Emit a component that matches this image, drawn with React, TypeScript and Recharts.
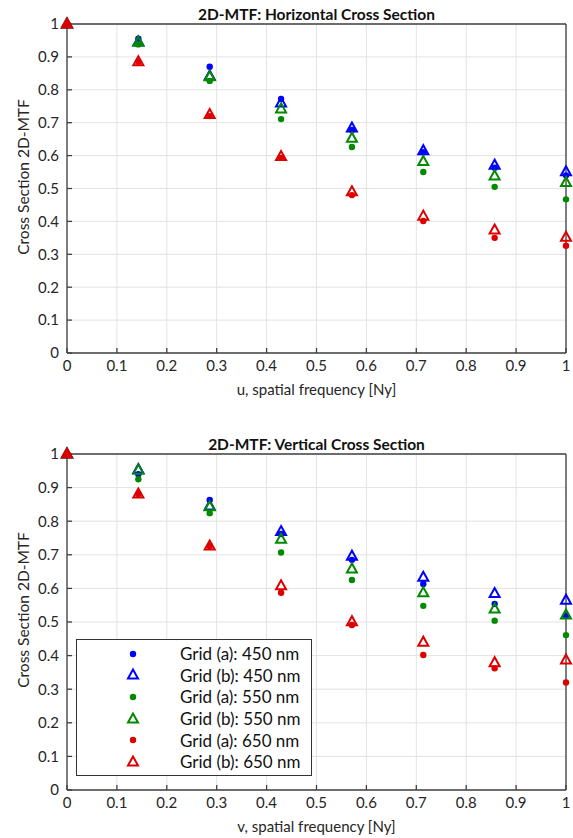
import { ScatterChart, Scatter, XAxis, YAxis, CartesianGrid } from 'recharts';

const FREQ = [0, 0.143, 0.286, 0.429, 0.571, 0.714, 0.857, 1];
const TICKS = [0, 0.1, 0.2, 0.3, 0.4, 0.5, 0.6, 0.7, 0.8, 0.9, 1];

// horizontal cross section
const H_A450 = [1, 0.955, 0.87, 0.772, 0.678, 0.61, 0.563, 0.54];
const H_B450 = [1, 0.945, 0.842, 0.76, 0.684, 0.615, 0.571, 0.551];
const H_A550 = [1, 0.938, 0.827, 0.711, 0.626, 0.55, 0.505, 0.467];
const H_B550 = [1, 0.945, 0.84, 0.742, 0.653, 0.582, 0.538, 0.518];
const H_A650 = [1, 0.885, 0.72, 0.593, 0.48, 0.401, 0.35, 0.326];
const H_B650 = [1, 0.885, 0.725, 0.597, 0.49, 0.416, 0.374, 0.352];

// vertical cross section
const V_A450 = [1, 0.94, 0.863, 0.762, 0.685, 0.613, 0.554, 0.519];
const V_B450 = [1, 0.954, 0.845, 0.769, 0.696, 0.633, 0.585, 0.565];
const V_A550 = [1, 0.925, 0.824, 0.707, 0.625, 0.548, 0.504, 0.461];
const V_B550 = [1, 0.952, 0.843, 0.746, 0.658, 0.587, 0.539, 0.521];
const V_A650 = [1, 0.881, 0.726, 0.587, 0.491, 0.402, 0.362, 0.32];
const V_B650 = [1, 0.881, 0.726, 0.608, 0.501, 0.44, 0.379, 0.387];

const LABELS = [
  'Grid (a): 450 nm',
  'Grid (b): 450 nm',
  'Grid (a): 550 nm',
  'Grid (b): 550 nm',
  'Grid (a): 650 nm',
  'Grid (b): 650 nm',
];
const COLORS = ['#0000ff', '#0000ff', '#008a00', '#008a00', '#dd0000', '#dd0000'];
const TRI = [false, true, false, true, false, true];

const FONT = 'Lato, "Open Sans", sans-serif';
const AXIS = '#404040';

const fmt = (v: number) => String(Math.round(v * 10) / 10);

const Dot = (color: string) => (p: any) => <circle cx={p.cx} cy={p.cy} r={3.2} fill={color} />;
const Tri = (color: string) => (p: any) => (
  <polygon
    points={`${p.cx},${p.cy - 5.5} ${p.cx - 5},${p.cy + 3.5} ${p.cx + 5},${p.cy + 3.5}`}
    fill="none"
    stroke={color}
    strokeWidth={2}
  />
);

const toPoints = (ys: number[]) => FREQ.map((x, i) => ({ x, y: ys[i] }));

function Panel({ title, xLabel, series, top, height, mt, mb, showLegend }: any) {
  const tickStyle = { fill: '#262626', fontSize: 15, fontFamily: FONT };
  const plotH = height - mt - mb;
  return (
    <div style={{ position: 'absolute', left: 0, top, width: 573, height }}>
      <ScatterChart width={573} height={height} margin={{ top: mt - 1, right: 6, bottom: mb - 30, left: 27 }}>
        <CartesianGrid stroke="#e3e3e3" strokeWidth={1} horizontalValues={TICKS} verticalValues={TICKS} />
        <XAxis
          type="number"
          dataKey="x"
          domain={[0, 1]}
          ticks={TICKS}
          interval={0}
          tickFormatter={fmt}
          height={30}
          tickSize={-5}
          tickMargin={12}
          stroke={AXIS}
          strokeWidth={1.3}
          tick={tickStyle}
        />
        <XAxis
          xAxisId="top"
          orientation="top"
          type="number"
          domain={[0, 1]}
          ticks={TICKS}
          interval={0}
          height={1}
          tickSize={-5}
          tick={false}
          stroke={AXIS}
          strokeWidth={1.3}
        />
        <YAxis
          type="number"
          dataKey="y"
          domain={[0, 1]}
          ticks={TICKS}
          interval={0}
          tickFormatter={fmt}
          width={40}
          tickSize={-5}
          tickMargin={13}
          stroke={AXIS}
          strokeWidth={1.3}
          tick={tickStyle}
        />
        <YAxis
          yAxisId="right"
          orientation="right"
          type="number"
          domain={[0, 1]}
          ticks={TICKS}
          interval={0}
          width={1}
          tickSize={-5}
          tick={false}
          stroke={AXIS}
          strokeWidth={1.3}
        />
        {series.map((ys: number[], i: number) => (
          <Scatter
            key={LABELS[i]}
            name={LABELS[i]}
            data={toPoints(ys)}
            isAnimationActive={false}
            shape={TRI[i] ? Tri(COLORS[i]) : Dot(COLORS[i])}
          />
        ))}
      </ScatterChart>
      <div
        style={{
          position: 'absolute', left: 67, width: 499, top: mt - 18, textAlign: 'center',
          fontFamily: FONT, fontWeight: 700, fontSize: 15.5, color: '#111', lineHeight: '16px',
        }}
      >
        {title}
      </div>
      <div
        style={{
          position: 'absolute', left: 67, width: 499, top: height - mb + 28, textAlign: 'center',
          fontFamily: FONT, fontSize: 15, color: '#262626', lineHeight: '16px',
        }}
      >
        {xLabel}
      </div>
      <div
        style={{
          position: 'absolute', left: 23, top: mt + plotH / 2 - 12, width: 0, height: 0,
        }}
      >
        <div
          style={{
            position: 'absolute', transform: 'translate(-50%, -50%) rotate(-90deg)', whiteSpace: 'nowrap',
            fontFamily: FONT, fontSize: 15.5, color: '#262626', lineHeight: '16px',
          }}
        >
          Cross Section 2D-MTF
        </div>
      </div>
      {showLegend && (
        <div
          style={{
            position: 'absolute', left: 76, top: 219, width: 236, height: 137, border: '1px solid #333',
            background: '#fff', fontFamily: FONT, fontSize: 17, color: '#111',
            paddingTop: 3, boxSizing: 'border-box',
          }}
        >
          {LABELS.map((l, i) => (
            <div key={l} style={{ display: 'flex', alignItems: 'center', height: 21.6 }}>
              <svg width={103} height={20} style={{ flex: 'none' }}>
                {TRI[i] ? (
                  <polygon points="56,4.5 51,13.5 61,13.5" fill="none" stroke={COLORS[i]} strokeWidth={2} />
                ) : (
                  <circle cx={56} cy={10} r={3.2} fill={COLORS[i]} />
                )}
              </svg>
              <span>{l}</span>
            </div>
          ))}
        </div>
      )}
    </div>
  );
}

export default function App() {
  return (
    <div style={{ position: 'absolute', left: 0, top: 0, width: 573, height: 838, background: '#fff' }}>
      <Panel
        title="2D-MTF: Horizontal Cross Section"
        xLabel="u, spatial frequency [Ny]"
        series={[H_A450, H_B450, H_A550, H_B550, H_A650, H_B650]}
        top={0}
        height={410}
        mt={24}
        mb={57}
        showLegend={false}
      />
      <Panel
        title="2D-MTF: Vertical Cross Section"
        xLabel="v, spatial frequency [Ny]"
        series={[V_A450, V_B450, V_A550, V_B550, V_A650, V_B650]}
        top={420}
        height={418}
        mt={34}
        mb={48}
        showLegend={true}
      />
    </div>
  );
}
